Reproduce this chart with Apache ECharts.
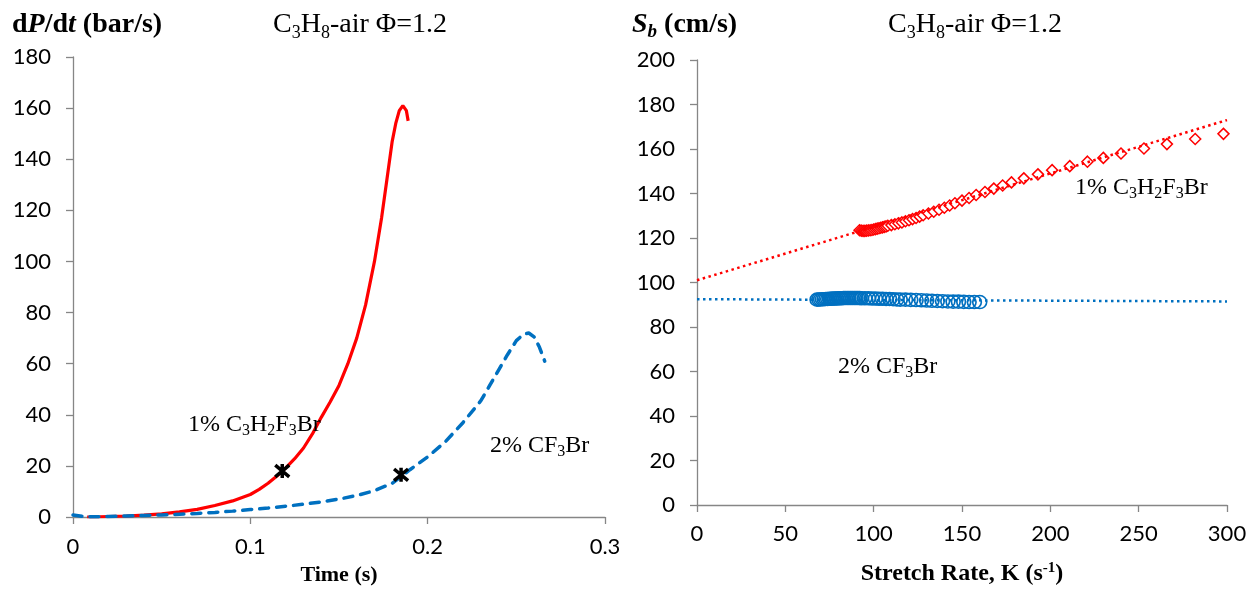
<!DOCTYPE html>
<html>
<head>
<meta charset="utf-8">
<script src="https://cdn.jsdelivr.net/npm/echarts@6/dist/echarts.min.js"></script>
<style>
  html, body { margin: 0; padding: 0; background: #fff; }
  #chart { width: 1256px; height: 591px; }
</style>
</head>
<body>
<div id="chart"></div>
<script>
// left panel: dP/dt vs time
const timeRed = [0.008, 0.015, 0.02, 0.03, 0.04, 0.05, 0.06, 0.07, 0.08, 0.09, 0.1, 0.105, 0.11, 0.115, 0.12, 0.125, 0.13, 0.135, 0.14, 0.145, 0.15, 0.155, 0.16, 0.165, 0.17, 0.174, 0.177, 0.18, 0.182, 0.184, 0.186, 0.188, 0.189];
const dpdtRed = [0, 0.1, 0.2, 0.4, 0.7, 1.2, 2, 3, 4.5, 6.3, 8.8, 10.8, 13.2, 16, 19.2, 22.8, 27, 32.5, 39, 45, 51.5, 60, 70, 83, 100, 117, 132, 147, 154, 159, 161, 159, 155];
const timeBlue = [0, 0.005, 0.01, 0.02, 0.03, 0.04, 0.05, 0.06, 0.07, 0.08, 0.09, 0.1, 0.11, 0.12, 0.13, 0.14, 0.15, 0.16, 0.17, 0.18, 0.185, 0.19, 0.2, 0.21, 0.22, 0.23, 0.235, 0.24, 0.245, 0.25, 0.254, 0.257, 0.26, 0.263, 0.266];
const dpdtBlue = [0.8, 0.3, 0.1, 0.2, 0.4, 0.6, 0.8, 1.1, 1.4, 1.8, 2.3, 2.9, 3.5, 4.2, 5, 5.9, 7, 8.4, 10.3, 13.2, 15.8, 18.5, 23.5, 29.5, 37, 45.5, 51.5, 57.5, 63.5, 69, 71.5, 72, 70.5, 66.5, 61];
const markTime = [0.118, 0.185];
const markDpdt = [18, 16.5];

// right panel: Sb vs stretch rate
const stretchRed = [92, 93, 94, 95, 96, 97, 98, 99, 100, 101, 102, 103, 104, 105, 106, 107, 108, 110, 112, 114, 116, 118, 120, 122, 124, 126, 128, 131, 134, 137, 140, 143, 146, 150, 154, 158, 163, 168, 173, 178, 185, 193, 201, 211, 221, 230, 240, 253, 266, 282, 298];
const sbRed = [123.5, 123.3, 123.2, 123.2, 123.3, 123.4, 123.5, 123.6, 123.8, 124, 124.2, 124.4, 124.6, 124.8, 125, 125.2, 125.5, 125.8, 126.2, 126.6, 127, 127.5, 128, 128.5, 129, 129.6, 130.2, 131, 131.8, 132.7, 133.6, 134.6, 135.6, 136.8, 138, 139.3, 140.7, 142.2, 143.6, 145, 146.8, 148.6, 150.5, 152.3, 154.3, 156, 158, 160.2, 162.2, 164.5, 166.8];
const stretchBlue = [68, 69, 70, 71, 72, 73, 74, 75, 76, 77, 78, 79, 80, 81, 82, 83, 84, 85, 86, 87, 88, 89, 90, 91, 92, 93, 95, 97, 99, 101, 103, 105, 107, 109, 111, 113, 115, 118, 121, 124, 127, 130, 133, 136, 139, 142, 145, 148, 151, 154, 157, 160];
const sbBlue = [92.3, 92.4, 92.4, 92.5, 92.5, 92.6, 92.6, 92.7, 92.7, 92.8, 92.8, 92.8, 92.9, 92.9, 92.9, 93, 93, 93, 93, 93, 93, 93, 93, 93, 93, 92.9, 92.9, 92.9, 92.8, 92.8, 92.7, 92.7, 92.6, 92.6, 92.5, 92.4, 92.3, 92.3, 92.2, 92.1, 92, 91.9, 91.8, 91.7, 91.6, 91.5, 91.4, 91.4, 91.3, 91.2, 91.2, 91.2];
const fitK = [0, 300];
const fitRed = [101, 173];
const fitBlue = [92.5, 91.5];

const zip = (xs, ys) => xs.map((x, i) => [x, ys[i]]);

const serif = "'Liberation Serif', 'Times New Roman', serif";
const sans = "Lato, 'Open Sans', sans-serif";
const axisColor = "#868686";

const rich = {
  r: { fontFamily: serif, fontSize: 28, lineHeight: 34, fontWeight: "normal", color: "#000" },
  rs: { fontFamily: serif, fontSize: 18, lineHeight: 16, fontWeight: "normal", verticalAlign: "bottom", color: "#000" },
  b: { fontFamily: serif, fontSize: 28, lineHeight: 34, fontWeight: "bold", color: "#000" },
  bi: { fontFamily: serif, fontSize: 28, lineHeight: 34, fontWeight: "bold", fontStyle: "italic", color: "#000" },
  bis: { fontFamily: serif, fontSize: 19, lineHeight: 16, fontWeight: "bold", fontStyle: "italic", verticalAlign: "bottom", color: "#000" },
  a: { fontFamily: serif, fontSize: 24, lineHeight: 28, fontWeight: "normal", color: "#000" },
  as: { fontFamily: serif, fontSize: 16, lineHeight: 12, fontWeight: "normal", verticalAlign: "bottom", color: "#000" },
};

function txt(text, left, top) {
  return { text, left, top, padding: 0, textStyle: { fontWeight: "normal", rich } };
}

function axisCommon(labelMargin) {
  return {
    axisLine: { show: true, onZero: false, lineStyle: { color: axisColor, width: 1.3 } },
    axisTick: { show: true, length: 7, lineStyle: { color: axisColor, width: 1.3 } },
    splitLine: { show: false },
    axisLabel: { color: "#000", fontFamily: sans, fontSize: 22, margin: labelMargin },
  };
}

function nameStyle(size) {
  return {
    fontFamily: serif, fontSize: size, fontWeight: "bold", color: "#000",
    rich: {
      n: { fontFamily: serif, fontSize: size, fontWeight: "bold", lineHeight: 26, color: "#000" },
      sup: { fontFamily: serif, fontSize: 15, fontWeight: "bold", lineHeight: 12, verticalAlign: "top", color: "#000" },
    },
  };
}

const options = {
  animation: false,
  backgroundColor: "#fff",
  title: [
    txt("{b|d}{bi|P}{b|/d}{bi|t}{b| (bar/s)}", 12, 8),
    txt("{r|C}{rs|3}{r|H}{rs|8}{r|-air Φ=1.2}", 273, 8),
    txt("{bi|S}{bis|b}{b| (cm/s)}", 632, 8),
    txt("{r|C}{rs|3}{r|H}{rs|8}{r|-air Φ=1.2}", 888, 8),
    txt("{a|1% C}{as|3}{a|H}{as|2}{a|F}{as|3}{a|Br}", 188, 411),
    txt("{a|2% CF}{as|3}{a|Br}", 490, 432),
    txt("{a|1% C}{as|3}{a|H}{as|2}{a|F}{as|3}{a|Br}", 1075, 174),
    txt("{a|2% CF}{as|3}{a|Br}", 838, 353),
  ],
  grid: [
    { left: 73, right: 651, top: 57, bottom: 71 },
    { left: 697, right: 29, top: 60, bottom: 79 },
  ],
  xAxis: [
    Object.assign(axisCommon(19), {
      type: "value", gridIndex: 0, min: 0, max: 0.3, interval: 0.1,
      name: "Time (s)", nameLocation: "middle", nameGap: 47, nameTextStyle: nameStyle(22),
    }),
    Object.assign(axisCommon(18), {
      type: "value", gridIndex: 1, min: 0, max: 300, interval: 50,
      name: "{n|Stretch Rate, K (s}{sup|-1}{n|)}", nameLocation: "middle", nameGap: 56, nameTextStyle: nameStyle(24),
    }),
  ],
  yAxis: [
    Object.assign(axisCommon(22), { type: "value", gridIndex: 0, min: 0, max: 180, interval: 20 }),
    Object.assign(axisCommon(22), { type: "value", gridIndex: 1, min: 0, max: 200, interval: 20 }),
  ],
  series: [
    {
      type: "line", xAxisIndex: 0, yAxisIndex: 0, showSymbol: false,
      data: zip(timeRed, dpdtRed),
      lineStyle: { color: "#ff0000", width: 3.2 },
    },
    {
      type: "line", xAxisIndex: 0, yAxisIndex: 0, showSymbol: false,
      data: zip(timeBlue, dpdtBlue),
      lineStyle: { color: "#0070c0", width: 3.5, type: [9, 8], cap: "round" },
    },
    {
      type: "scatter", xAxisIndex: 0, yAxisIndex: 0, z: 5,
      data: zip(markTime, markDpdt),
      symbol: "path://M0,0L10,10M10,0L0,10M5,-1L5,11",
      symbolSize: 14,
      itemStyle: { color: "transparent", borderColor: "#000", borderWidth: 3.5, opacity: 1 },
    },
    {
      type: "line", xAxisIndex: 1, yAxisIndex: 1, showSymbol: false,
      data: zip(fitK, fitRed),
      lineStyle: { color: "#ff0000", width: 2.5, type: [2.5, 3.5] },
    },
    {
      type: "line", xAxisIndex: 1, yAxisIndex: 1, showSymbol: false,
      data: zip(fitK, fitBlue),
      lineStyle: { color: "#0070c0", width: 2.5, type: [2.5, 3.5] },
    },
    {
      type: "scatter", xAxisIndex: 1, yAxisIndex: 1,
      data: zip(stretchRed, sbRed),
      symbol: "diamond", symbolSize: 11,
      itemStyle: { color: "#fff", borderColor: "#ff0000", borderWidth: 1.5, opacity: 1 },
    },
    {
      type: "scatter", xAxisIndex: 1, yAxisIndex: 1,
      data: zip(stretchBlue, sbBlue),
      symbol: "circle", symbolSize: [14, 13],
      itemStyle: { color: "transparent", borderColor: "#0070c0", borderWidth: 1.6, opacity: 1 },
    },
  ],
};

const chart = echarts.init(document.getElementById("chart"));
chart.setOption(options);
window.addEventListener("resize", () => {
  chart.resize();
});
</script>
</body>
</html>
